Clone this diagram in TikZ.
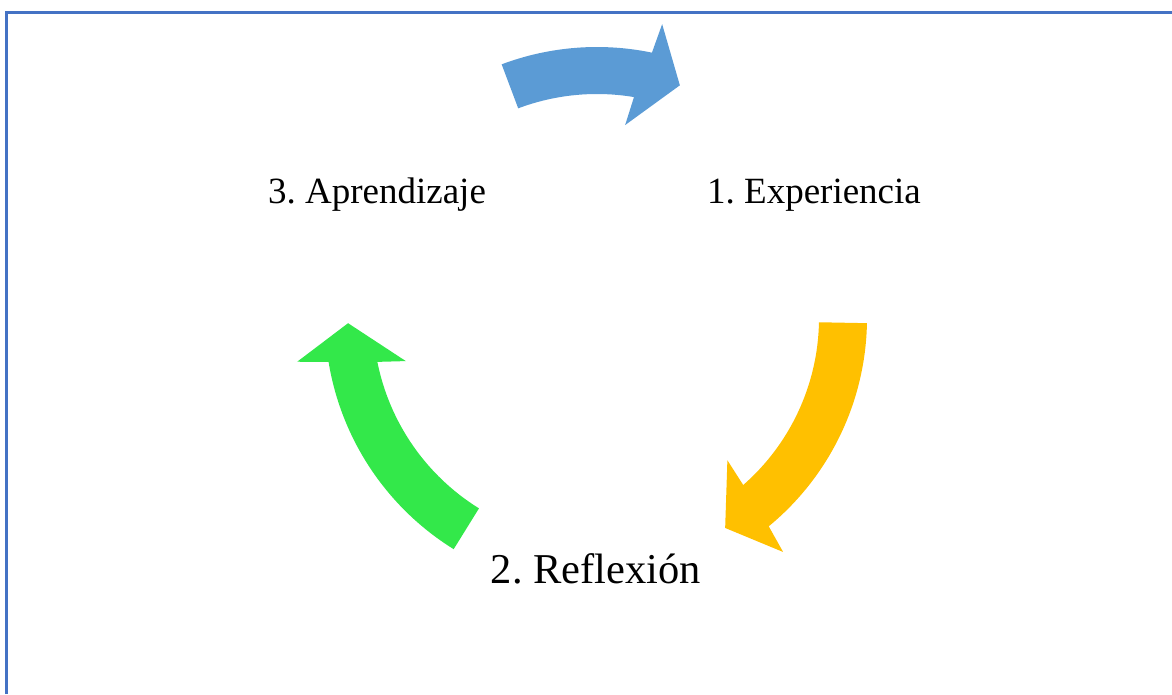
\documentclass[tikz,border=0pt]{standalone}
\usepackage{fontspec}
\setmainfont{Liberation Serif}
\frenchspacing
\definecolor{framecol}{RGB}{68,114,196}
\definecolor{arrowblue}{RGB}{91,155,213}
\definecolor{arrowyellow}{RGB}{255,192,0}
\definecolor{arrowgreen}{RGB}{51,232,74}
\tikzset{
  lbl/.style={font=\fontsize{37}{44}\selectfont, inner sep=0pt, anchor=base},
  lblbig/.style={font=\fontsize{42.5}{51}\selectfont, inner sep=0pt, anchor=base}
}
\begin{document}
\begin{tikzpicture}[x=1pt,y=1pt]
        \useasboundingbox (0,0) rectangle (1172,694);
        %Rahmen
        \draw[framecol,line width=2.5pt] (6.5,0) -- (6.5,681.5) -- (1172,681.5);

        %Pfeile
        \begin{scope}[shift={(597,376)}]
        \fill[arrowblue] (110.6:271pt) arc[start angle=110.6,end angle=78.3,radius=271pt]
            -- (77.5:301pt) -- (70.4:247pt) -- (81.7:195pt) -- (80.5:224pt)
            arc[start angle=80.5,end angle=110.6,radius=224pt] -- cycle;
        \fill[arrowyellow] (-1.1:270pt) arc[start angle=-1.1,end angle=-50.5,radius=270pt]
            -- (-51.5:299pt) -- (-58.6:246pt) -- (-47.5:193pt) -- (-48.8:222pt)
            arc[start angle=-48.8,end angle=-1.1,radius=222pt] -- cycle;
        \fill[arrowgreen] (238.2:272pt) arc[start angle=238.2,end angle=189.3,radius=272pt]
            -- (188.3:303pt) -- (181.2:249pt) -- (192.7:196pt) -- (191.3:224pt)
            arc[start angle=191.3,end angle=238.2,radius=224pt] -- cycle;
        \end{scope}

        %Texte
        \node[lbl] (exp) at (814,490) {1. Experiencia};
        \node[lblbig] (refl) at (596,111) {2. Reflexión};
        \node[lbl] (apr) at (377,490) {3. Aprendizaje};
\end{tikzpicture}
\end{document}
